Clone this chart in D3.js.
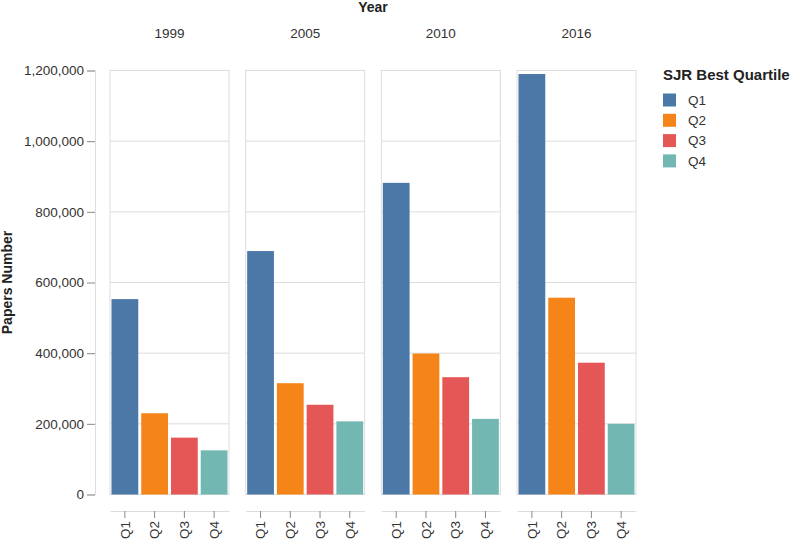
<!DOCTYPE html>
<html>
<head>
<meta charset="utf-8">
<script src="https://cdn.jsdelivr.net/npm/d3@7"></script>
<style>
  html, body { margin: 0; padding: 0; background: #fff; }
  svg { display: block; font-family: Helvetica, Arial, "Liberation Sans", sans-serif; }
</style>
</head>
<body>
<svg id="chart" width="794" height="541"></svg>
<script>
const years = ["1999", "2005", "2010", "2016"];
const quartiles = ["Q1", "Q2", "Q3", "Q4"];
const q1Values = [553000, 689000, 882000, 1190000];
const q2Values = [230000, 315000, 399000, 557000];
const q3Values = [161000, 254000, 332000, 373000];
const q4Values = [125000, 207000, 214000, 200000];
const yTicks = [0, 200000, 400000, 600000, 800000, 1000000, 1200000];
const colors = ["#4c78a8", "#f58518", "#e45756", "#72b7b2"];

(function () {
const seriesByQuartile = [q1Values, q2Values, q3Values, q4Values];
const data = [];
years.forEach((yr, i) => {
  quartiles.forEach((q, j) => {
    data.push({ year: yr, quartile: q, value: seriesByQuartile[j][i] });
  });
});

const svg = d3.select("#chart");
const plotTop = 70.5, plotBottom = 494.5;
const facet = d3.scaleBand().domain(years).range([110, 636]).paddingInner(0.1229).paddingOuter(0);
const x = d3.scaleBand().domain(quartiles).range([0, facet.bandwidth()]).paddingInner(0.1).paddingOuter(0.05);
const y = d3.scaleLinear().domain([0, 1200000]).range([plotBottom, plotTop]);
const color = d3.scaleOrdinal().domain(quartiles).range(colors);
const fmt = d3.format(",");
const FONT = "Helvetica, Arial, 'Liberation Sans', sans-serif";

// Top title
svg.append("text").attr("x", 373).attr("y", 12).attr("text-anchor", "middle")
  .attr("font-size", 14).attr("font-weight", "bold").attr("fill", "#222").text("Year");

// Y axis
const yAxisG = svg.append("g").attr("transform", "translate(95,0)")
  .call(d3.axisLeft(y).tickValues(yTicks).tickFormat(fmt).tickSize(8).tickPadding(3));
yAxisG.select(".domain").attr("stroke", "#ddd");
yAxisG.selectAll(".tick line").attr("stroke", "#888");
yAxisG.selectAll(".tick text").attr("font-size", 13.5).attr("fill", "#333").attr("font-family", FONT);

svg.append("text").attr("transform", `translate(12,${(plotTop + plotBottom) / 2}) rotate(-90)`)
  .attr("text-anchor", "middle").attr("font-size", 14).attr("font-weight", "bold")
  .attr("fill", "#222").text("Papers Number");

// Panels
years.forEach(yr => {
  const g = svg.append("g").attr("transform", `translate(${facet(yr)},0)`);
  const w = facet.bandwidth();
  g.append("text").attr("x", w / 2).attr("y", 38).attr("text-anchor", "middle")
    .attr("font-size", 13.5).attr("fill", "#333").text(yr);
  g.selectAll("line.grid").data(yTicks).enter().append("line")
    .attr("class", "grid")
    .attr("x1", 0).attr("x2", w).attr("y1", d => y(d)).attr("y2", d => y(d))
    .attr("stroke", "#ddd").attr("stroke-width", 1);
  g.append("rect").attr("x", 0).attr("y", plotTop).attr("width", w).attr("height", plotBottom - plotTop)
    .attr("fill", "none").attr("stroke", "#ddd");
  g.selectAll("rect.bar").data(data.filter(d => d.year === yr)).enter().append("rect")
    .attr("class", "bar")
    .attr("x", d => x(d.quartile)).attr("width", x.bandwidth())
    .attr("y", d => y(d.value)).attr("height", d => y(0) - y(d.value))
    .attr("fill", d => color(d.quartile));
  const xa = g.append("g").attr("transform", "translate(0,511)")
    .call(d3.axisBottom(x).tickSize(7).tickSizeOuter(0).tickPadding(3));
  xa.select(".domain").attr("stroke", "#ddd");
  xa.selectAll(".tick line").attr("stroke", "#888");
  xa.selectAll(".tick text").attr("font-size", 13.5).attr("fill", "#333").attr("font-family", FONT)
    .attr("transform", "rotate(-90)").attr("text-anchor", "end")
    .attr("x", -10).attr("y", 0).attr("dy", "0.35em");
});

// Legend
const lg = svg.append("g").attr("transform", "translate(663,0)");
lg.append("text").attr("x", 0).attr("y", 80).attr("font-size", 15).attr("font-weight", "bold")
  .attr("fill", "#222").text("SJR Best Quartile");
quartiles.forEach((q, i) => {
  const cy = 100 + i * 20.3;
  lg.append("rect").attr("x", 0).attr("y", cy - 6.5).attr("width", 13).attr("height", 13)
    .attr("fill", color(q));
  lg.append("text").attr("x", 25).attr("y", cy).attr("dy", "0.35em")
    .attr("font-size", 13.5).attr("fill", "#333").text(q);
});
})();
</script>
</body>
</html>
